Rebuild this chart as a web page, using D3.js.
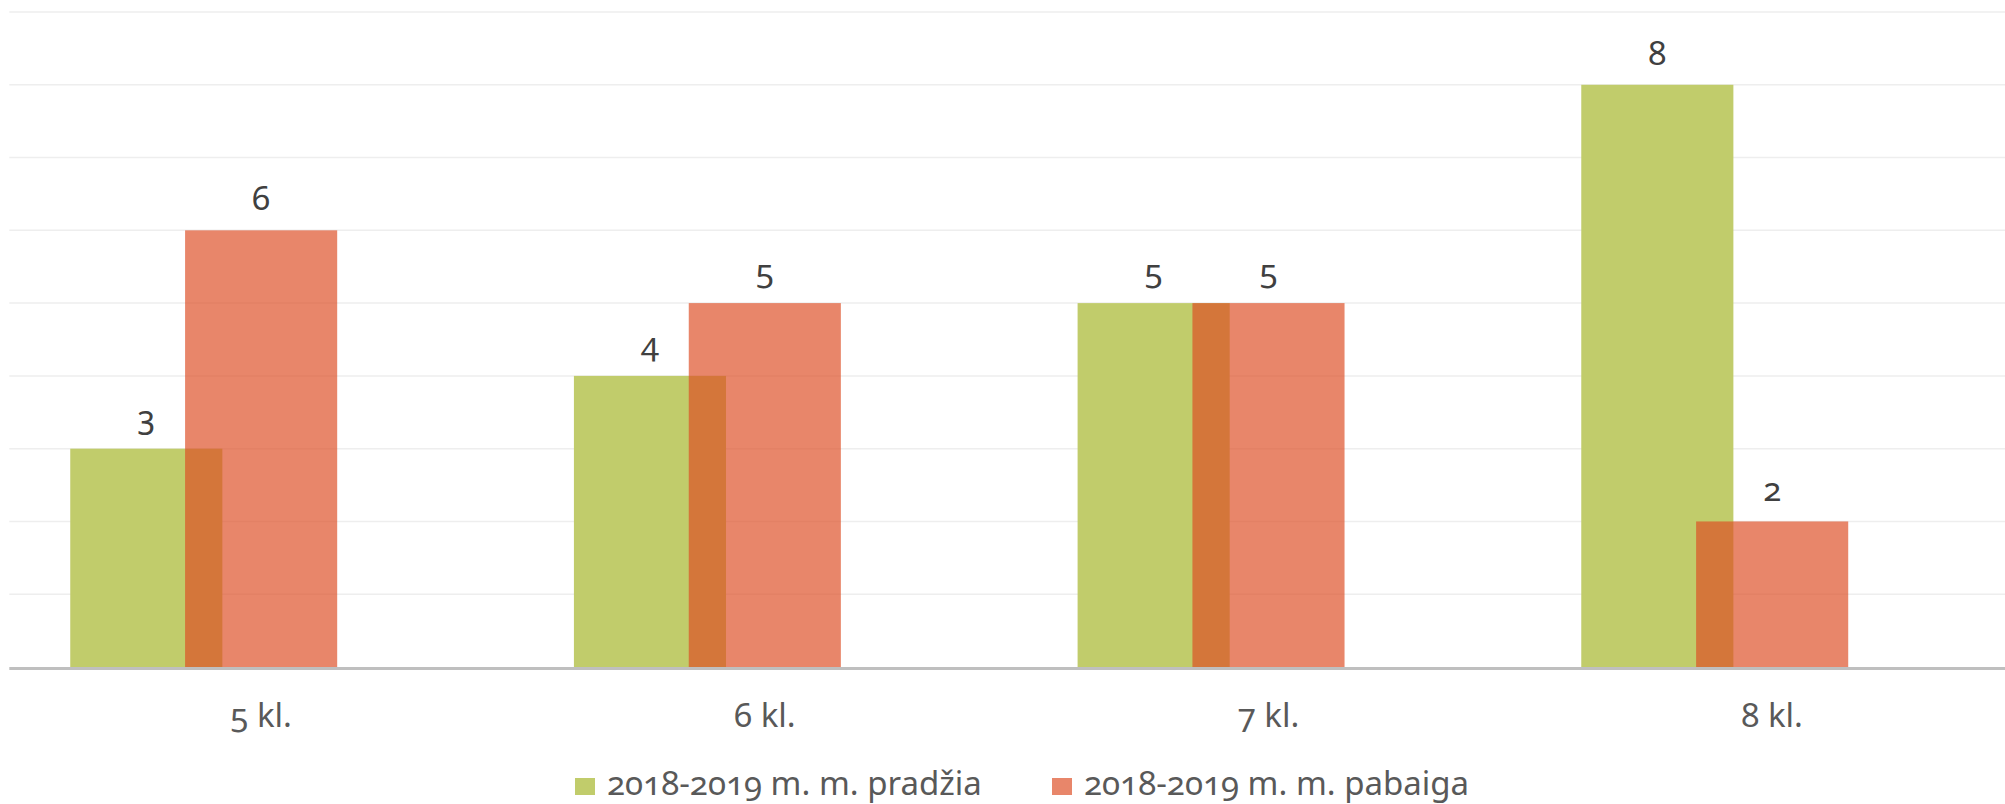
<!DOCTYPE html>
<html lang="lt">
  <head>
    <meta charset="utf-8" />
    <title>Klasės</title>
    <script src="https://d3js.org/d3.v7.min.js"></script>
    <style>
      body { margin: 0; background: #fff; }
      svg text { font-family: "Noto Sans", "Open Sans", sans-serif; font-feature-settings: "onum" 1; font-variant-numeric: oldstyle-nums; }
    </style>
  </head>
  <body>
    <div id="my_dataviz"></div>
    <script>
      // data
      const categories = ["5 kl.", "6 kl.", "7 kl.", "8 kl."]
      const seriesNames = ["2018-2019 m. m. pradžia", "2018-2019 m. m. pabaiga"]
      const startValues = [3, 4, 5, 8]
      const endValues = [6, 5, 5, 2]
      const yTicks = [1, 2, 3, 4, 5, 6, 7, 8, 9]

      const width = 2005, height = 804

      const svg = d3.select("#my_dataviz")
        .append("svg")
          .attr("width", width)
          .attr("height", height)

      // scales
      const x = d3.scaleBand()
        .domain(categories)
        .range([9.3, 2024])
        .padding(0)
      const y = d3.scaleLinear()
        .domain([0, 9])
        .range([667, 12])

      const bw = x.bandwidth()
      const barW = bw * 0.302
      const shift = bw * 0.228

      // gridlines
      svg.append("g")
        .selectAll("line")
        .data(yTicks)
        .join("line")
          .attr("x1", 9.3)
          .attr("x2", width)
          .attr("y1", d => y(d))
          .attr("y2", d => y(d))
          .attr("stroke", "#eeeeee")
          .attr("stroke-width", 1.5)

      const color = d3.scaleOrdinal()
        .domain(seriesNames)
        .range(["#c1cc6b", "#dd4d24"])

      // first series bars (left)
      svg.append("g")
        .selectAll("rect")
        .data(startValues)
        .join("rect")
          .attr("x", (d, i) => x(categories[i]) + bw / 2 - barW / 2 - shift)
          .attr("y", d => y(d))
          .attr("width", barW)
          .attr("height", d => y(0) - y(d))
          .style("fill", color(seriesNames[0]))

      // second series bars (centered, semi transparent)
      svg.append("g")
        .selectAll("rect")
        .data(endValues)
        .join("rect")
          .attr("x", (d, i) => x(categories[i]) + bw / 2 - barW / 2)
          .attr("y", d => y(d))
          .attr("width", barW)
          .attr("height", d => y(0) - y(d))
          .style("fill", color(seriesNames[1]))
          .style("fill-opacity", 0.68)

      // baseline
      svg.append("line")
        .attr("x1", 9.3)
        .attr("x2", width)
        .attr("y1", y(0) + 1.5)
        .attr("y2", y(0) + 1.5)
        .attr("stroke", "#bfbfbf")
        .attr("stroke-width", 3)

      // value labels
      svg.append("g")
        .selectAll("text")
        .data(startValues)
        .join("text")
          .attr("x", (d, i) => x(categories[i]) + bw / 2 - shift)
          .attr("y", d => y(d) - 20)
          .attr("text-anchor", "middle")
          .style("font-size", "33px")
          .style("fill", "#404040")
          .text(d => d)

      svg.append("g")
        .selectAll("text")
        .data(endValues)
        .join("text")
          .attr("x", (d, i) => x(categories[i]) + bw / 2)
          .attr("y", d => y(d) - 20)
          .attr("text-anchor", "middle")
          .style("font-size", "33px")
          .style("fill", "#404040")
          .text(d => d)

      // category labels
      svg.append("g")
        .selectAll("text")
        .data(categories)
        .join("text")
          .attr("x", d => x(d) + bw / 2)
          .attr("y", 727)
          .attr("text-anchor", "middle")
          .style("font-size", "33px")
          .style("fill", "#595959")
          .text(d => d)

      // legend
      const legendX = [575, 1052]
      const legend = svg.append("g")
        .selectAll("g")
        .data(seriesNames)
        .join("g")
          .attr("transform", (d, i) => `translate(${legendX[i]}, 778)`)
      legend.append("rect")
        .attr("width", 20)
        .attr("height", 17)
        .style("fill", (d, i) => i === 0 ? "#c1cc6b" : "#e8866a")
      legend.append("text")
        .attr("x", 32)
        .attr("y", 17)
        .style("font-size", "33px")
        .style("fill", "#595959")
        .text(d => d)
    </script>
  </body>
</html>
